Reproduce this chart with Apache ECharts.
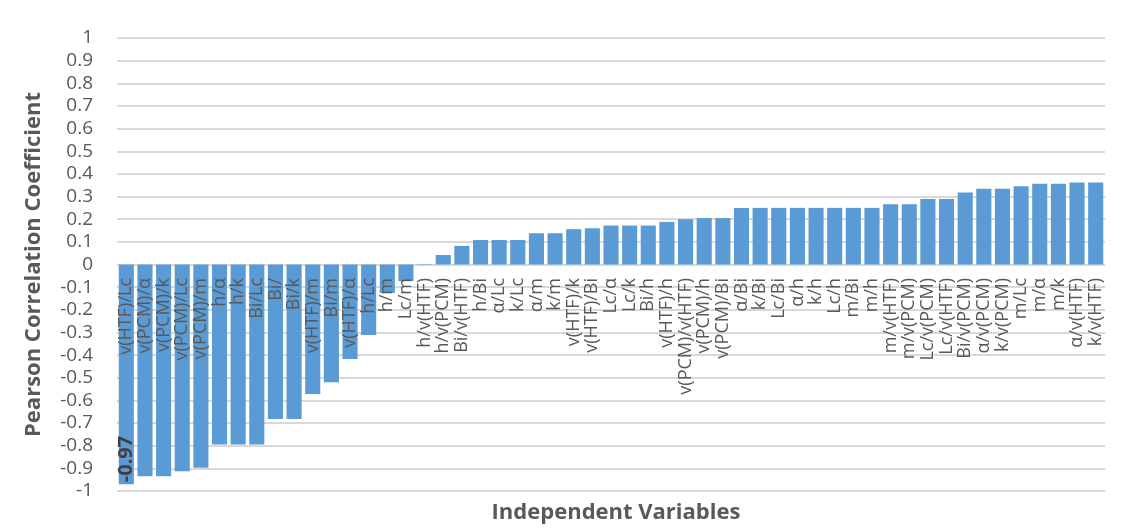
<!DOCTYPE html>
<html>
<head>
<meta charset="utf-8">
<script src="https://cdn.jsdelivr.net/npm/echarts@6/dist/echarts.min.js"></script>
<style>
html,body{margin:0;padding:0;background:#fff;}
#frame{position:absolute;left:0;top:0;width:1129px;height:532px;}
#edge{position:absolute;left:7px;top:0;width:0;height:532px;border-left:1px solid #d9d9d9;}
#chart{position:absolute;left:0;top:0;width:1129px;height:532px;}
</style>
</head>
<body>
<div id="frame"><div id="edge"></div><div id="chart"></div></div>
<script>
const categories = [
  'v(HTF)/Lc','v(PCM)/α','v(PCM)/k','v(PCM)/Lc','v(PCM)/m','h/α','h/k','Bi/Lc','Bi/','Bi/k',
  'v(HTF)/m','Bi/m','v(HTF)/α','h/Lc','h/m','Lc/m','h/v(HTF)','h/v(PCM)','Bi/v(HTF)','h/Bi',
  'α/Lc','k/Lc','α/m','k/m','v(HTF)/k','v(HTF)/Bi','Lc/α','Lc/k','Bi/h','v(HTF)/h',
  'v(PCM)/v(HTF)','v(PCM)/h','v(PCM)/Bi','α/Bi','k/Bi','Lc/Bi','α/h','k/h','Lc/h','m/Bi',
  'm/h','m/v(HTF)','m/v(PCM)','Lc/v(PCM)','Lc/v(HTF)','Bi/v(PCM)','α/v(PCM)','k/v(PCM)','m/Lc','m/α',
  'm/k','α/v(HTF)','k/v(HTF)'
];
const values = [
  -0.97,-0.935,-0.935,-0.913,-0.897,-0.795,-0.795,-0.795,-0.682,-0.682,
  -0.572,-0.52,-0.417,-0.311,-0.126,-0.074,0.002,0.042,0.082,0.108,
  0.108,0.108,0.138,0.138,0.156,0.16,0.172,0.172,0.172,0.188,
  0.2,0.205,0.205,0.25,0.25,0.25,0.25,0.25,0.25,0.25,
  0.25,0.266,0.266,0.289,0.289,0.318,0.334,0.334,0.346,0.356,
  0.356,0.362,0.362
];
const labelledIndex = 0;
const labelText = '-0.97';
const yTicks = { min: -1, max: 1, interval: 0.1 };
const yTitle = 'Pearson Correlation Coefficient';
const xTitle = 'Independent Variables';

const font = 'Open Sans';
const grey = '#595959';
const chart = echarts.init(document.getElementById('chart'), null, {renderer:'canvas'});
const seriesData = values.map((v,i) => i === labelledIndex ? {
  value: v,
  label: {
    show: true, formatter: labelText, position: 'insideBottom', rotate: 90,
    color: '#404040', fontFamily: font, fontWeight: 'bold', fontSize: 20,
    align: 'left', verticalAlign: 'middle', distance: 2
  }
} : v);

chart.setOption({
  animation: false,
  backgroundColor: '#ffffff',
  title: {
    text: xTitle, left: 611, top: 497, textAlign: 'center',
    textStyle: { color: grey, fontFamily: font, fontWeight: 'bold', fontSize: 22 }
  },
  grid: { left: 117, right: 24, top: 38, bottom: 41, containLabel: false, outerBoundsMode: 'none' },
  xAxis: {
    type: 'category',
    data: categories,
    z: 10,
    axisLine: { show: false, onZero: false },
    axisTick: { show: false },
    axisLabel: {
      interval: 0, rotate: 90, color: grey, fontFamily: font, fontSize: 18, margin: -213,
      hideOverlap: false
    },
    splitLine: { show: false }
  },
  yAxis: {
    type: 'value',
    min: yTicks.min, max: yTicks.max, interval: yTicks.interval,
    axisLine: { show: false },
    axisTick: { show: false },
    axisLabel: {
      color: grey, fontFamily: font, fontSize: 19, margin: 24,
      formatter: v => String(Math.round(v * 10) / 10)
    },
    splitLine: { lineStyle: { color: '#d9d9d9', width: 2 } },
    name: yTitle,
    nameLocation: 'middle',
    nameGap: 72,
    nameTextStyle: { color: grey, fontFamily: font, fontWeight: 'bold', fontSize: 22 }
  },
  series: [{
    type: 'bar',
    data: seriesData,
    barCategoryGap: '19%',
    itemStyle: { color: '#5B9BD5' },
    z: 1
  }]
});
</script>
</body>
</html>
